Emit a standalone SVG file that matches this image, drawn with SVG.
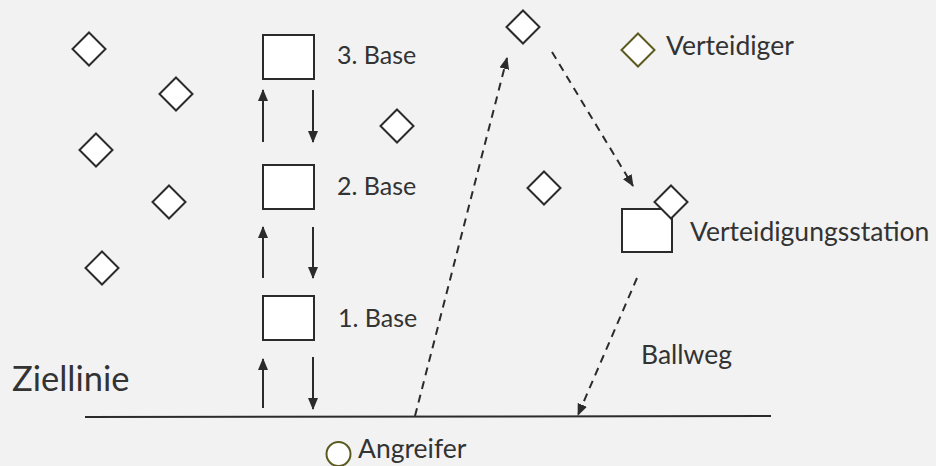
<svg xmlns="http://www.w3.org/2000/svg" width="936" height="466" viewBox="0 0 936 466">
<defs>
<style>
.bg{fill:#f2f2f2}
.sh{fill:#fff;stroke:#2b2b2b;stroke-width:2}
.leg{fill:#fff;stroke:#5b5a1f;stroke-width:2}
.t{font-family:Lato,"Liberation Sans",sans-serif;fill:#333;font-size:26.5px}
.b{font-size:25px}
.ln{stroke:#2b2b2b;stroke-width:2;fill:none}
.dl{stroke:#2b2b2b;stroke-width:2;fill:none;stroke-dasharray:8 6}
</style>
<marker id="ah" viewBox="0 0 12 10" refX="11" refY="5" markerWidth="12" markerHeight="10" markerUnits="userSpaceOnUse" orient="auto">
<path d="M0,0 L12,5 L0,10 Z" fill="#2b2b2b"/>
</marker>
<path id="dm" d="M0,-16.5 L16.5,0 L0,16.5 L-16.5,0 Z"/>
</defs>
<rect class="bg" x="0" y="0" width="936" height="466"/>

<g id="defenders">
<use href="#dm" class="sh" x="89" y="49"/>
<use href="#dm" class="sh" x="176" y="94"/>
<use href="#dm" class="sh" x="96" y="150"/>
<use href="#dm" class="sh" x="169" y="202"/>
<use href="#dm" class="sh" x="102" y="268"/>
<use href="#dm" class="sh" x="397" y="126"/>
<use href="#dm" class="sh" x="523" y="27"/>
<use href="#dm" class="sh" x="544" y="188"/>
</g>

<g id="base3"><rect class="sh" x="263" y="35" width="51" height="44"/><text class="t b" x="337" y="64">3. Base</text></g>
<g id="base2"><rect class="sh" x="263" y="165" width="51" height="44"/><text class="t b" x="337" y="195">2. Base</text></g>
<g id="base1"><rect class="sh" x="263" y="296" width="51" height="44"/><text class="t b" x="338" y="327">1. Base</text></g>

<g id="station">
<rect class="sh" x="622" y="209" width="50" height="43"/>
<use href="#dm" class="sh" x="671" y="202"/>
<text class="t" x="690" y="241">Verteidigungsstation</text>
</g>

<g id="legend-defender"><use href="#dm" class="leg" x="638" y="50"/><text class="t" x="666" y="55">Verteidiger</text></g>
<g id="legend-attacker"><circle class="leg" cx="338.5" cy="454" r="12"/><text class="t" x="358" y="458">Angreifer</text></g>

<g id="goalline"><line class="ln" x1="85" y1="417" x2="771" y2="416"/><text class="t" x="12" y="391" style="font-size:34.5px">Ziellinie</text></g>
<g id="ballweg-label"><text class="t" x="641" y="364">Ballweg</text></g>

<g id="connectors">
<line class="ln" x1="263" y1="142" x2="263" y2="90" marker-end="url(#ah)"/>
<line class="ln" x1="313" y1="90" x2="313" y2="142" marker-end="url(#ah)"/>
<line class="ln" x1="263" y1="278" x2="263" y2="227" marker-end="url(#ah)"/>
<line class="ln" x1="313" y1="227" x2="313" y2="278" marker-end="url(#ah)"/>
<line class="ln" x1="263" y1="408" x2="263" y2="359" marker-end="url(#ah)"/>
<line class="ln" x1="313" y1="357" x2="313" y2="409" marker-end="url(#ah)"/>
<line class="dl" x1="415" y1="416" x2="507" y2="58" marker-end="url(#ah)"/>
<line class="dl" x1="552" y1="52" x2="633" y2="186" marker-end="url(#ah)"/>
<line class="dl" x1="637" y1="278" x2="578" y2="415" marker-end="url(#ah)"/>
</g>
</svg>
